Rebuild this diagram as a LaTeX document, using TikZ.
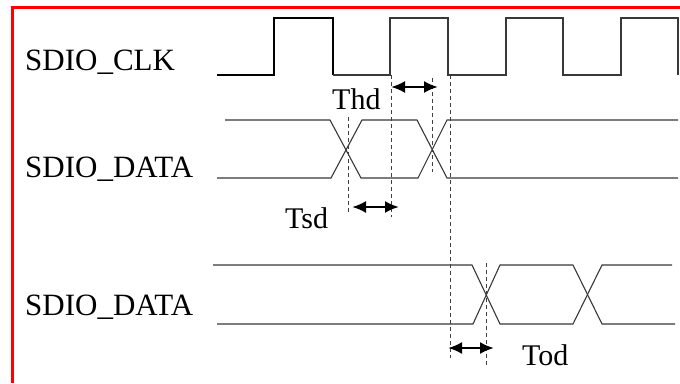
\documentclass[tikz,border=0pt]{standalone}
\usepackage{fontspec}
\setmainfont{Liberation Serif}
\usetikzlibrary{arrows.meta}
\begin{document}
\begin{tikzpicture}[x=1pt,y=-1pt,
  lbl/.style={anchor=base west,inner sep=0pt,font=\fontsize{31}{36}\selectfont},
  tlbl/.style={anchor=base west,inner sep=0pt,font=\fontsize{30}{34}\selectfont},
  sig/.style={draw=black!78,line width=1.1pt,line join=miter},
  clkfirst/.style={draw=black,line width=1.5pt},
  guide/.style={draw=black!75,line width=1pt,dash pattern=on 4pt off 3pt},
  meas/.style={line width=2.2pt,{Latex[length=14pt,width=12pt]}-{Latex[length=14pt,width=12pt]}},
  frame/.style={draw=red,line width=3pt}]
\useasboundingbox (0,0) rectangle (680,383);
% frame
\draw[frame] (12,383) -- (12,7.5) -- (680,7.5);
% labels
\node[lbl] (clk) at (25,70) {SDIO\_CLK};
\node[lbl] (data1) at (25,177) {SDIO\_DATA};
\node[lbl] (data2) at (25,315) {SDIO\_DATA};
% clock
\draw[clkfirst] (217,75) -- (274,75) -- (274,18) -- (333,18) -- (333,75);
\draw[sig] (333,75) -- (390,75) -- (390,18) -- (448,18) -- (448,75) -- (506,75) -- (506,18) -- (563,18) -- (563,75) -- (621,75) -- (621,18) -- (678,18) -- (678,75);
% data 1
\draw[sig] (225,120) -- (330,120) -- (361,178) -- (418,178) -- (447,120) -- (678,120);
\draw[sig] (217,178) -- (331,178) -- (362,120) -- (417,120) -- (447,178) -- (678,178);
% data 2
\draw[sig] (213,265) -- (472,265) -- (500,324) -- (573,324) -- (602,265) -- (672,265);
\draw[sig] (217,324) -- (473,324) -- (500,265) -- (573,265) -- (602,324) -- (675,324);
% guides
\draw[guide] (348,117) -- (348,212);
\draw[guide] (391,75) -- (391,217);
\draw[guide] (432,78) -- (432,172);
\draw[guide] (450,75) -- (450,358);
\draw[guide] (486,263) -- (486,365);
% measures
\coordinate (thdA) at (391,87); \coordinate (thdB) at (438,87);
\coordinate (tsdA) at (352,207); \coordinate (tsdB) at (399,207);
\coordinate (todA) at (448,348); \coordinate (todB) at (494,348);
\draw[meas] (thdA) -- (thdB);
\draw[meas] (tsdA) -- (tsdB);
\draw[meas] (todA) -- (todB);
\node[tlbl] (thd) at (332,109) {Thd};
\node[tlbl] (tsd) at (285,228) {Tsd};
\node[tlbl] (tod) at (522,365) {Tod};
\end{tikzpicture}
\end{document}
